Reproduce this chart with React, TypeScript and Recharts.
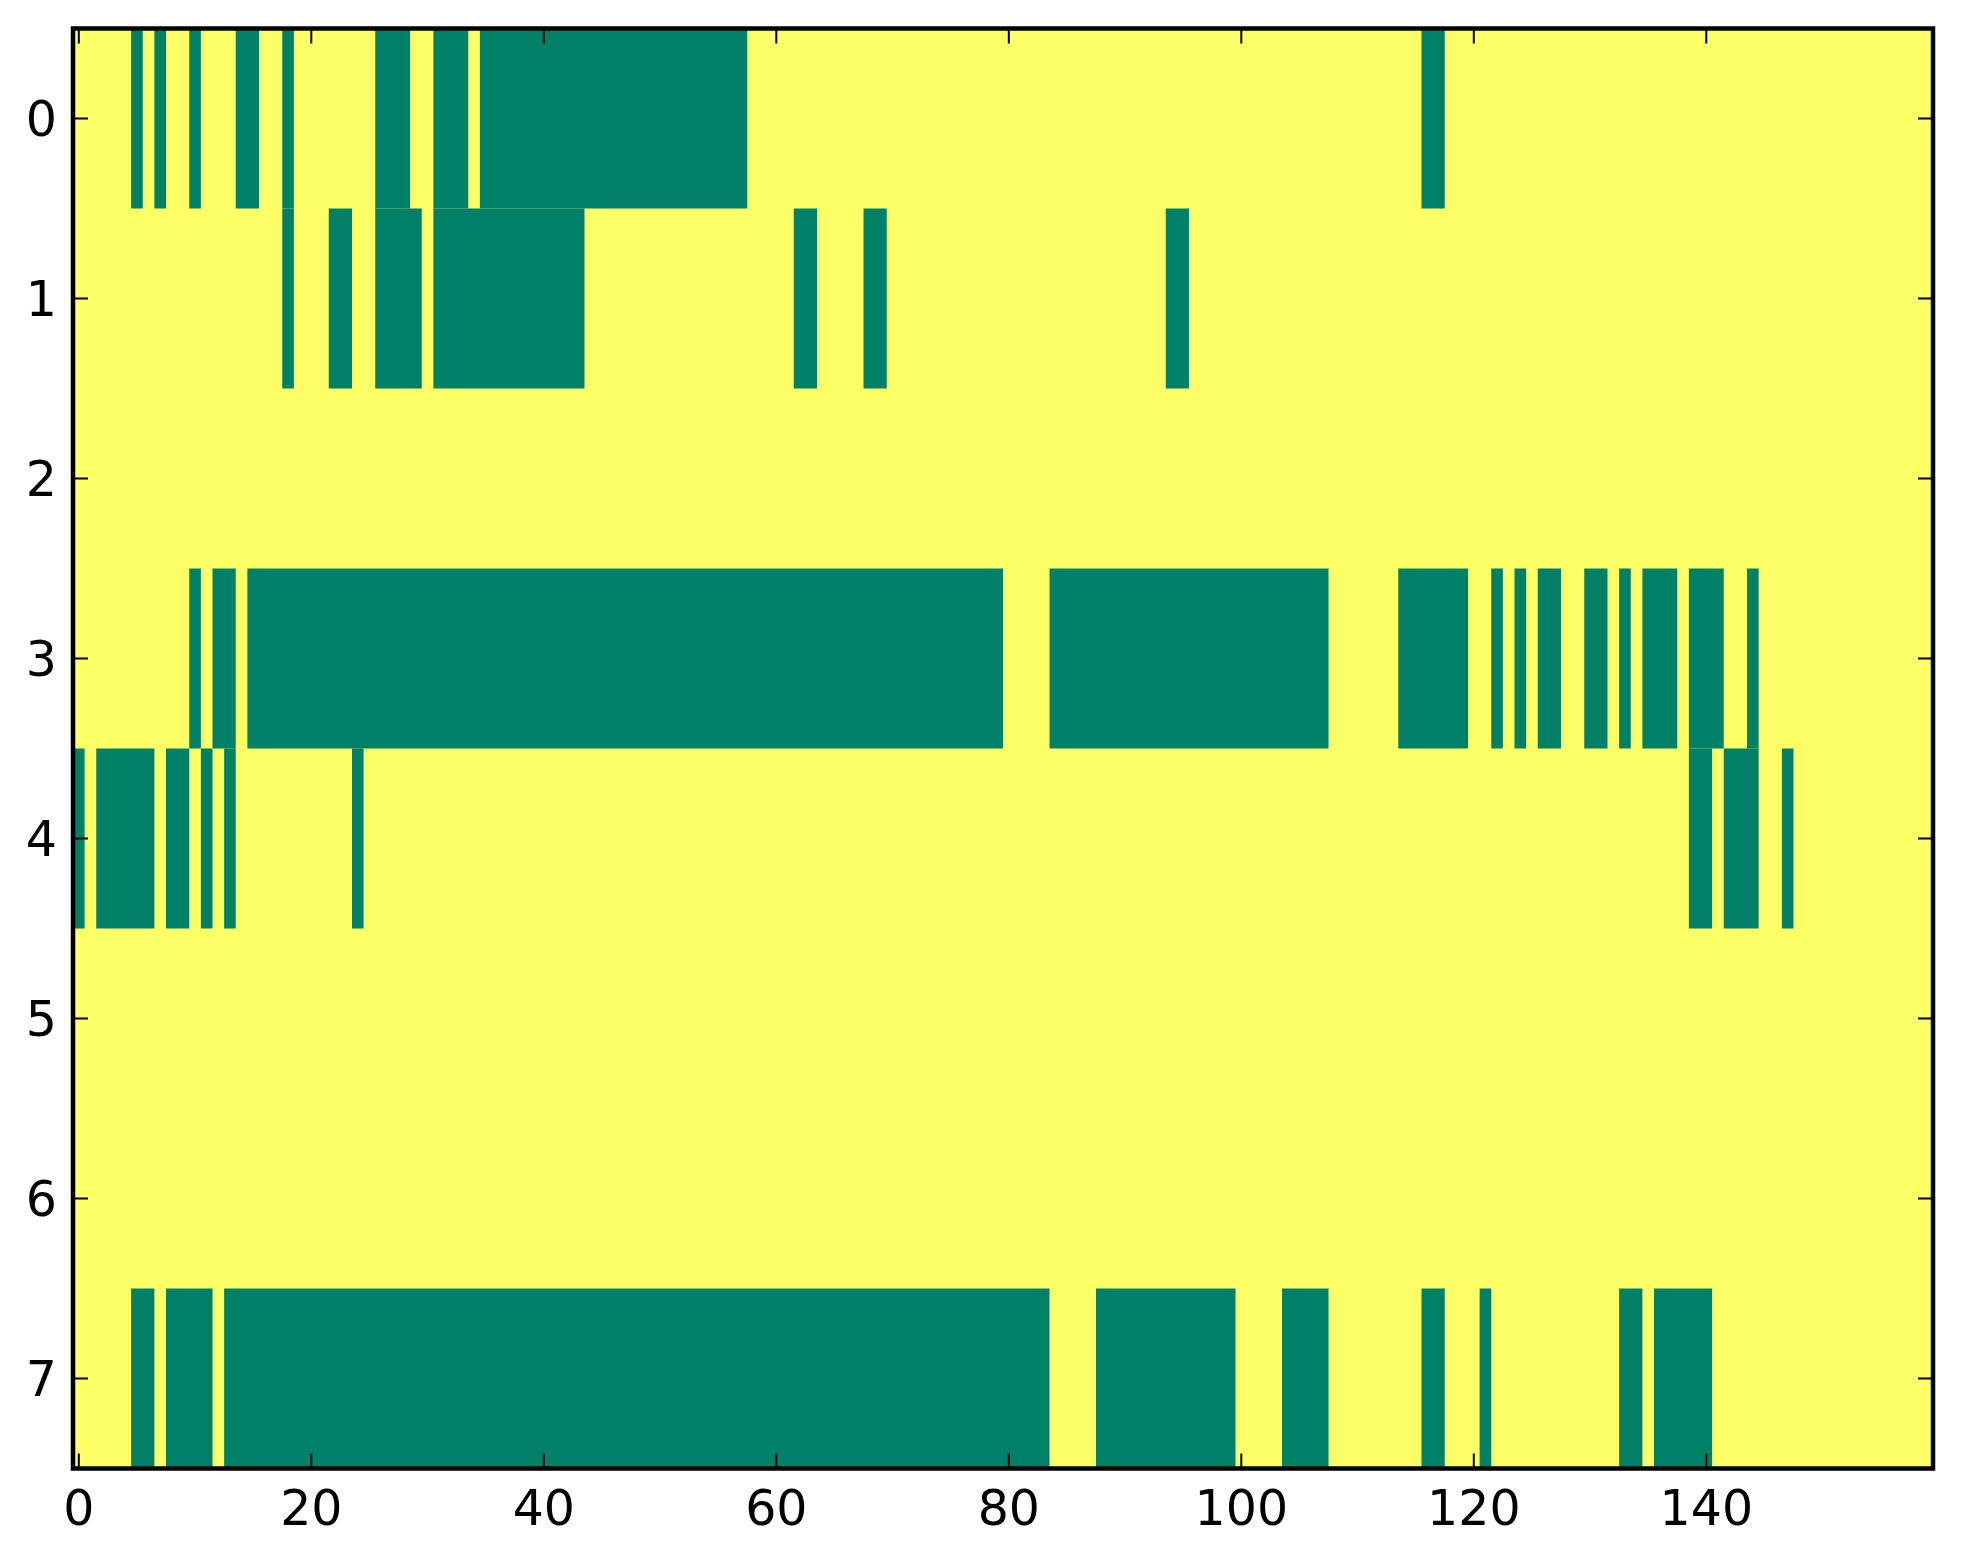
import React from "react";
import { ScatterChart, Scatter, XAxis, YAxis, ReferenceArea } from "recharts";

// green runs per row, as [firstColumn, lastColumn]
const row0 = [[5, 5], [7, 7], [10, 10], [14, 15], [18, 18], [26, 28], [31, 33], [35, 57], [116, 117]];
const row1 = [[18, 18], [22, 23], [26, 29], [31, 43], [62, 63], [68, 69], [94, 95]];
const row2: number[][] = [];
const row3 = [
  [10, 10], [12, 13], [15, 79], [84, 107], [114, 119], [122, 122], [124, 124],
  [126, 127], [130, 131], [133, 133], [135, 137], [139, 141], [144, 144],
];
const row4 = [[0, 0], [2, 6], [8, 9], [11, 11], [13, 13], [24, 24], [139, 140], [142, 144], [147, 147]];
const row5: number[][] = [];
const row6: number[][] = [];
const row7 = [[5, 6], [8, 11], [13, 83], [88, 99], [104, 107], [116, 117], [121, 121], [133, 134], [136, 140]];

const rows = [row0, row1, row2, row3, row4, row5, row6, row7];
const columnCount = 160;
const xTicks = [0, 20, 40, 60, 80, 100, 120, 140];
const yTicks = [0, 1, 2, 3, 4, 5, 6, 7];

const GREEN = "#008066";
const YELLOW = "#ffff66";
const FONT = { fontFamily: "DejaVu Sans", fontSize: 49, fill: "#000" };
const TICK_LEN = 15;

const runs = rows.flatMap((r, row) => r.map(([a, b]) => ({ row, a, b })));
const centers = runs.map((r) => ({ x: (r.a + r.b) / 2, y: r.row }));

const BottomTick = ({ x, y, payload }: any) => (
  <g>
    <line x1={x} x2={x} y1={y - 21} y2={y - 21 - TICK_LEN} stroke="#000" strokeWidth={2} />
    <text x={x} y={y} dy="0.73em" textAnchor="middle" {...FONT}>
      {payload.value}
    </text>
  </g>
);

const LeftTick = ({ x, y, payload }: any) => (
  <g>
    <line x1={x + 16} x2={x + 16 + TICK_LEN} y1={y} y2={y} stroke="#000" strokeWidth={2} />
    <text x={x} y={y} dy="0.36em" textAnchor="end" {...FONT}>
      {payload.value}
    </text>
  </g>
);

const TopTick = ({ x, y }: any) => (
  <line x1={x} x2={x} y1={y} y2={y + TICK_LEN} stroke="#000" strokeWidth={2} />
);

const RightTick = ({ x, y }: any) => (
  <line x1={x - TICK_LEN} x2={x} y1={y} y2={y} stroke="#000" strokeWidth={2} />
);

export default function App() {
  const xDomain = [-0.5, columnCount - 0.5];
  const yDomain = [-0.5, rows.length - 0.5];
  return (
    <div style={{ position: "absolute", left: 0, top: 0, background: "#fff" }}>
      <ScatterChart width={1963} height={1564} margin={{ top: 27.5, right: 29, bottom: 15.5, left: 13 }}>
        <XAxis
          type="number"
          dataKey="x"
          domain={xDomain}
          allowDataOverflow
          ticks={xTicks}
          interval={0}
          height={80}
          axisLine={false}
          tickLine={false}
          tickSize={0}
          tickMargin={21}
          tick={<BottomTick />}
        />
        <XAxis
          xAxisId="top"
          orientation="top"
          type="number"
          dataKey="x"
          domain={xDomain}
          allowDataOverflow
          ticks={xTicks}
          interval={0}
          height={1}
          axisLine={false}
          tickLine={false}
          tickSize={0}
          tickMargin={0}
          tick={<TopTick />}
        />
        <YAxis
          type="number"
          dataKey="y"
          domain={yDomain}
          allowDataOverflow
          reversed
          ticks={yTicks}
          interval={0}
          width={60}
          axisLine={false}
          tickLine={false}
          tickSize={0}
          tickMargin={16}
          tick={<LeftTick />}
        />
        <YAxis
          yAxisId="right"
          orientation="right"
          type="number"
          dataKey="y"
          domain={yDomain}
          allowDataOverflow
          reversed
          ticks={yTicks}
          interval={0}
          width={1}
          axisLine={false}
          tickLine={false}
          tickSize={0}
          tickMargin={0}
          tick={<RightTick />}
        />
        <ReferenceArea
          x1={xDomain[0]}
          x2={xDomain[1]}
          y1={yDomain[0]}
          y2={yDomain[1]}
          fill={YELLOW}
          fillOpacity={1}
          stroke="none"
        />
        {runs.map((r, i) => (
          <ReferenceArea
            key={i}
            x1={r.a - 0.5}
            x2={r.b + 0.5}
            y1={r.row - 0.5}
            y2={r.row + 0.5}
            fill={GREEN}
            fillOpacity={1}
            stroke="none"
          />
        ))}
        <Scatter data={centers} shape={() => <g />} isAnimationActive={false} />
        <ReferenceArea
          x1={xDomain[0]}
          x2={xDomain[1]}
          y1={yDomain[0]}
          y2={yDomain[1]}
          ifOverflow="visible"
          fill="none"
          stroke="#000"
          strokeWidth={4.5}
        />
      </ScatterChart>
    </div>
  );
}
